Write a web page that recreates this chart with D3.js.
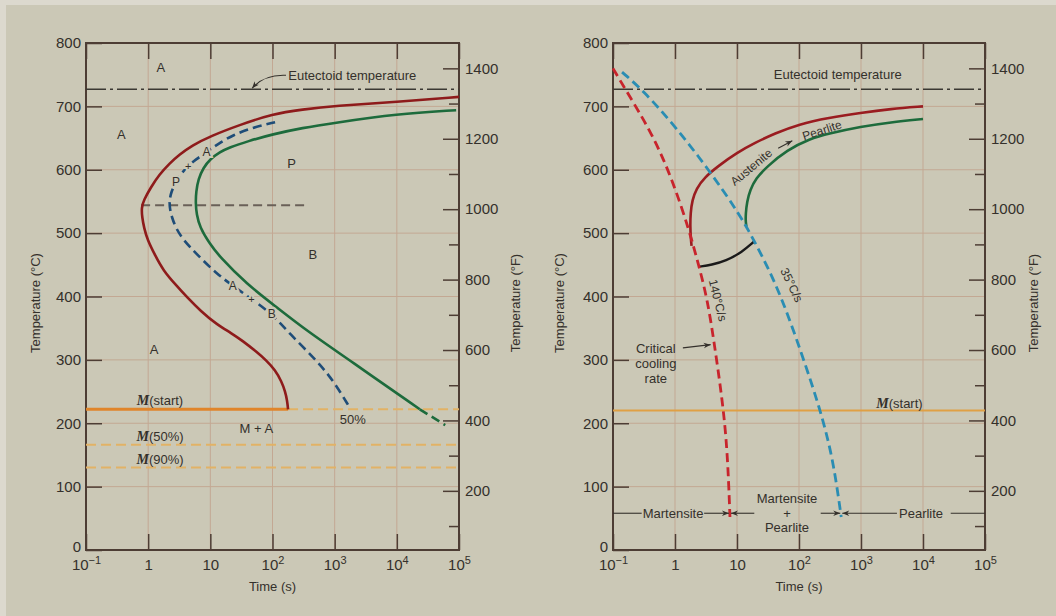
<!DOCTYPE html>
<html>
<head>
<meta charset="utf-8">
<script src="https://cdn.jsdelivr.net/npm/d3@7"></script>
<style>
  html, body { margin: 0; padding: 0; background: #cbc8b6; }
  svg { display: block; font-family: "Liberation Sans", Arial, sans-serif; }
</style>
</head>
<body>
<div id="chart"></div>
<script>
// ---- data ----
var decades = [0.1, 1, 10, 100, 1000, 10000, 100000];
var tempTicksC = [0, 100, 200, 300, 400, 500, 600, 700, 800];
var tempTicksF = [100, 200, 300, 400, 500, 600, 700, 800, 900, 1000, 1100, 1200, 1300, 1400];
var majorF = [200, 400, 600, 800, 1000, 1200, 1400];
var eutectoidT = 727;

// left: isothermal transformation curves [time s, temp C]
var leftStart = [[100000,715],[10000,707],[1000,701],[300,695],[100,688],[30,671],[10,653],[5,638],[3.2,624],
  [2.2,610],[1.5,592],[1.1,572],[0.85,552],[0.78,540],[0.8,525],[0.86,508],[0.97,490],[1.29,465],[1.75,441],
  [2.8,418],[4.2,399],[7,377],[12.6,356],[22,342],[33,330],[55,313],[80,299],[110,284],[140,266],[160,250],
  [172,236],[178,222]];
var leftHalf = [[110,675],[50,667],[23,655],[13,640],[8.7,628],[5.8,616],[4.4,606],[3.4,594],[2.8,582],
  [2.35,565],[2.2,552],[2.22,540],[2.4,525],[2.8,508],[3.6,490],[6,467],[12.6,436],[23,417],[46,396],
  [97,373],[190,341],[513,299],[955,267],[1740,225]];
var leftEnd = [[90000,694],[10000,688],[1000,674],[300,666],[100,656],[40,645],[20,635],[14.3,628],
  [10,617],[7.7,603],[6.4,585],[5.9,565],[5.8,548],[6,530],[6.8,509],[9.5,485],[14.3,462],[38,420],
  [117,383],[355,346],[1760,299],[23400,222]];
var leftEndTail = [[23400,222],[60000,197]];
var noseLine = [[0.77,544],[385,544]];
var mStartT = 222, m50T = 166, m90T = 130, mStartEnd = 178;

var leftLabels = [["A",1.6,761],["A",0.37,655],["P",203,610],["B",447,466],["A",1.24,317],
  ["M + A",55,192],["50%",1950,206]];
var curveLabels = [["P",2.8,580],["+",4.4,606],["A",8.7,628],["A",23,417],["+",46,396],["B",97,373]];
var mLabels = [["(start)",1.55,236],["(50%)",1.55,180],["(90%)",1.55,144]];

// right: continuous cooling curves
var rightStart = [[10000,700],[3000,696],[1000,690],[300,682],[100,672],[40,657],[20,643],[10,627],
  [5,606],[3,588],[2.2,570],[1.9,552],[1.78,532],[1.76,510],[1.8,492],[1.85,480]];
var rightEnd = [[10000,680],[3000,675],[1000,668],[300,657],[150,649],[64,631],[30.4,605],[20,586],
  [16.3,568],[14.5,550],[13.8,530],[13.8,518],[14.2,510]];
var rightStop = [[2.45,447],[3.9,450],[6.6,456],[12,470],[18.5,486]];
var coolCritical = [[0.1,760],[0.16,726],[0.43,657],[0.91,584],[1.69,505],[2.45,447],[3.35,394],
  [4.3,326],[5.8,237],[7,158],[7.7,52]];
var coolSlow = [[0.14,754],[0.3,726],[1.02,668],[3.56,599],[10.8,531],[20,484],[48,410],
  [115,305],[213,226],[350,147],[480,52]];
var rightMStartT = 220;
var regionT = 58;

// ---- drawing ----
var W = 1056, H = 616;
var svg = d3.select('#chart').append('svg').attr('width', W).attr('height', H);
svg.append('rect').attr('width', W).attr('height', H).attr('fill', '#dcd9ce');
svg.append('rect').attr('x', 6).attr('y', 5).attr('width', W).attr('height', H).attr('fill', '#cbc8b6');

var ink = '#34302b', frameCol = '#4d3d34', gridCol = '#c3a893', bg = '#cbc8b6';

var defs = svg.append('defs');
defs.append('marker').attr('id', 'arr').attr('viewBox', '0 0 10 10').attr('refX', 10).attr('refY', 5)
    .attr('markerUnits', 'userSpaceOnUse').attr('markerWidth', 8).attr('markerHeight', 7).attr('orient', 'auto')
  .append('path').attr('d', 'M0,1L10,5L0,9L3,5z').attr('fill', ink);

function panel(x0, x1, titleX1, titleX2) {
  var top = 43, bottom = 550;
  var g = svg.append('g');
  var x = d3.scaleLog().domain([0.1, 1e5]).range([x0, x1]);
  var y = d3.scaleLinear().domain([0, 800]).range([bottom, top]);
  var yF = d3.scaleLinear().domain([32, 1472]).range([bottom, top]);

  g.selectAll('.vg').data(decades.slice(1, -1)).enter().append('line')
    .attr('x1', d => x(d)).attr('x2', d => x(d)).attr('y1', top).attr('y2', bottom)
    .attr('stroke', gridCol).attr('stroke-width', 1);
  g.selectAll('.hg').data(tempTicksC.slice(1, -1)).enter().append('line')
    .attr('x1', x0).attr('x2', x1).attr('y1', d => y(d)).attr('y2', d => y(d))
    .attr('stroke', gridCol).attr('stroke-width', 1);

  var axL = g.append('g').attr('transform', 'translate(' + x0 + ',0)')
    .call(d3.axisLeft(y).tickValues(tempTicksC).tickSize(-16).tickSizeOuter(0).tickPadding(5));
  axL.selectAll('.tick text').filter(d => d === 0).attr('y', -3);
  var axR = g.append('g').attr('transform', 'translate(' + x1 + ',0)')
    .call(d3.axisRight(yF).tickValues(tempTicksF).tickSize(-16).tickSizeOuter(0).tickPadding(6)
      .tickFormat(d3.format('d')));
  axR.selectAll('.tick').filter(d => majorF.indexOf(d) < 0).each(function() {
    d3.select(this).select('line').attr('x2', -10);
    d3.select(this).select('text').remove();
  });
  var axB = g.append('g').attr('transform', 'translate(0,' + bottom + ')')
    .call(d3.axisBottom(x).tickValues(decades).tickSize(-16).tickSizeOuter(0).tickFormat(''));
  axB.selectAll('.tick text').each(function(d) {
    var t = d3.select(this).attr('y', 20).attr('dy', 0);
    var e = Math.round(Math.log10(d));
    if (e === 0) t.text('1');
    else if (e === 1) t.text('10');
    else {
      t.append('tspan').text('10');
      t.append('tspan').attr('dy', -6).attr('font-size', 11).text(e < 0 ? '\u2212' + (-e) : e);
    }
  });
  var axT = g.append('g').attr('transform', 'translate(0,' + top + ')')
    .call(d3.axisTop(x).tickValues(decades).tickSize(-16).tickSizeOuter(0).tickFormat(''));

  [axL, axR, axB, axT].forEach(function(a) {
    a.attr('font-size', 15).attr('font-family', null).attr('color', ink);
    a.select('.domain').remove();
    a.selectAll('line').attr('stroke', frameCol).attr('stroke-width', 1.5);
  });

  g.append('rect').attr('x', x0).attr('y', top).attr('width', x1 - x0).attr('height', bottom - top)
    .attr('fill', 'none').attr('stroke', frameCol).attr('stroke-width', 2);

  g.append('text').attr('x', x(100)).attr('y', 591).attr('text-anchor', 'middle')
    .attr('font-size', 13).attr('fill', ink).text('Time (s)');
  g.append('text').attr('transform', 'translate(' + titleX1 + ',303) rotate(-90)').attr('text-anchor', 'middle')
    .attr('dominant-baseline', 'central').attr('font-size', 13).attr('fill', ink).text('Temperature (\u00B0C)');
  g.append('text').attr('transform', 'translate(' + titleX2 + ',303) rotate(-90)').attr('text-anchor', 'middle')
    .attr('dominant-baseline', 'central').attr('font-size', 13).attr('fill', ink).text('Temperature (\u00B0F)');

  var line = d3.line().x(d => x(d[0])).y(d => y(d[1])).curve(d3.curveBasis);
  return { g: g, x: x, y: y, line: line };
}

function path(p, data, color, width, dash, curve) {
  var ln = curve ? p.line : d3.line().x(d => p.x(d[0])).y(d => p.y(d[1]));
  return p.g.append('path').datum(data).attr('d', ln).attr('fill', 'none')
    .attr('stroke', color).attr('stroke-width', width).attr('stroke-dasharray', dash || null);
}
function label(p, txt, t, T, size) {
  return p.g.append('text').attr('x', p.x(t)).attr('y', p.y(T)).attr('text-anchor', 'middle')
    .attr('dominant-baseline', 'central').attr('font-size', size || 13).attr('fill', ink).text(txt);
}

// ---------- left panel ----------
var L = panel(86, 459, 35, 515);

path(L, [[0.1, eutectoidT], [1e5, eutectoidT]], '#3b3832', 1.6, '20,4,3,4');
L.g.append('text').attr('x', L.x(180)).attr('y', L.y(748)).attr('dominant-baseline', 'central')
  .attr('font-size', 13).attr('fill', ink).text('Eutectoid temperature');
(function() {
  var sx = L.x(165), sy = L.y(749), ex = L.x(47), ey = L.y(eutectoidT) - 1;
  L.g.append('path').attr('d', 'M' + sx + ',' + sy + 'Q' + (ex + 12) + ',' + (sy - 1) + ' ' + ex + ',' + ey)
    .attr('fill', 'none').attr('stroke', ink).attr('stroke-width', 1.1).attr('marker-end', 'url(#arr)');
})();

path(L, noseLine, '#6a6058', 1.8, '9,5');
path(L, [[0.1, mStartT], [mStartEnd, mStartT]], '#e0852a', 3);
path(L, [[mStartEnd, mStartT], [1e5, mStartT]], '#e2b266', 2, '10,5');
path(L, [[0.1, m50T], [1e5, m50T]], '#e2b266', 2, '10,5');
path(L, [[0.1, m90T], [1e5, m90T]], '#e2b266', 2, '10,5');

path(L, leftStart, '#8e1b1b', 2.6, null, true);
path(L, leftEnd, '#1d6b3c', 2.6, null, true);
path(L, leftEndTail, '#1d6b3c', 2.6, '9,5');
path(L, leftHalf, '#1f4d78', 2.6, '9,5', true);

curveLabels.forEach(function(d) {
  label(L, d[0], d[1], d[2], d[0] === '+' ? 11 : 12)
    .attr('stroke', bg).attr('stroke-width', 4).attr('paint-order', 'stroke');
});
leftLabels.forEach(function(d) { label(L, d[0], d[1], d[2], 13); });
mLabels.forEach(function(d) {
  var t = label(L, '', d[1], d[2], 13);
  t.append('tspan').attr('font-family', '"Liberation Serif", serif').attr('font-style', 'italic')
    .attr('font-weight', 'bold').attr('font-size', 14).text('M');
  t.append('tspan').text(d[0]);
});

// ---------- right panel ----------
var R = panel(613, 985, 559, 1033);

path(R, [[0.1, eutectoidT], [1e5, eutectoidT]], '#3b3832', 1.6, '20,4,3,4');
label(R, 'Eutectoid temperature', 422, 750, 13);
path(R, [[0.1, rightMStartT], [1e5, rightMStartT]], '#e0a044', 2);
var ms = label(R, '', 4170, 232, 13);
ms.append('tspan').attr('font-family', '"Liberation Serif", serif').attr('font-style', 'italic')
  .attr('font-weight', 'bold').attr('font-size', 14).text('M');
ms.append('tspan').text('(start)');

path(R, rightStart, '#9a1c20', 2.6, null, true);
path(R, rightEnd, '#1d6b3c', 2.6, null, true);
path(R, rightStop, '#1a1a1a', 2.4, null, true);
path(R, coolCritical, '#c8242c', 2.8, '9,5', true);
path(R, coolSlow, '#2a8db3', 2.8, '9,5', true);

function rotLabel(p, txt, t, T, ang, size) {
  p.g.append('text').attr('transform', 'translate(' + p.x(t) + ',' + p.y(T) + ') rotate(' + ang + ')')
    .attr('text-anchor', 'middle').attr('dominant-baseline', 'central')
    .attr('font-size', size).attr('fill', ink).text(txt);
}
rotLabel(R, 'Austenite', 17, 604, -40, 12);
rotLabel(R, 'Pearlite', 235, 662, -18, 12);
(function() {
  var cx = R.x(60), cy = R.y(640), a = -28 * Math.PI / 180, h = 8;
  R.g.append('path').attr('d', 'M' + (cx - h * Math.cos(a)) + ',' + (cy - h * Math.sin(a)) +
      'L' + (cx + h * Math.cos(a)) + ',' + (cy + h * Math.sin(a)))
    .attr('stroke', ink).attr('stroke-width', 1.1).attr('marker-end', 'url(#arr)');
})();
rotLabel(R, '140\u00B0C/s', 4.9, 394, 76, 12);
rotLabel(R, '35\u00B0C/s', 76, 418, 64, 12);

var cc = R.g.append('text').attr('text-anchor', 'middle').attr('font-size', 13).attr('fill', ink);
['Critical', 'cooling', 'rate'].forEach(function(s, i) {
  cc.append('tspan').attr('x', R.x(0.49)).attr('y', R.y(318) + 5 + i * 15).text(s);
});
R.g.append('path').attr('d', 'M' + R.x(1.34) + ',' + R.y(319) + 'L' + (R.x(3.9) - 1) + ',' + R.y(324))
  .attr('stroke', ink).attr('stroke-width', 1.1).attr('marker-end', 'url(#arr)');

var mp = R.g.append('text').attr('text-anchor', 'middle').attr('font-size', 13).attr('fill', ink);
['Martensite', '+', 'Pearlite'].forEach(function(s, i) {
  mp.append('tspan').attr('x', R.x(64)).attr('y', R.y(regionT) - 10 + i * 14.5).text(s);
});
label(R, 'Martensite', 0.93, regionT, 13);
label(R, 'Pearlite', 9300, regionT, 13);

var tM = coolCritical[coolCritical.length - 1][0], tP = coolSlow[coolSlow.length - 1][0];
var yRow = R.y(regionT);
function seg(a, b, arrow) {
  R.g.append('line').attr('x1', a).attr('x2', b).attr('y1', yRow).attr('y2', yRow)
    .attr('stroke', ink).attr('stroke-width', 1.1).attr('marker-end', arrow ? 'url(#arr)' : null);
}
seg(R.x(0.1), R.x(0.29));
seg(R.x(2.95), R.x(tM) - 1, true);
seg(R.x(19), R.x(tM) + 1, true);
seg(R.x(224), R.x(tP) - 1, true);
seg(R.x(3800), R.x(tP) + 1, true);
seg(R.x(28000), R.x(1e5));
</script>
</body>
</html>
